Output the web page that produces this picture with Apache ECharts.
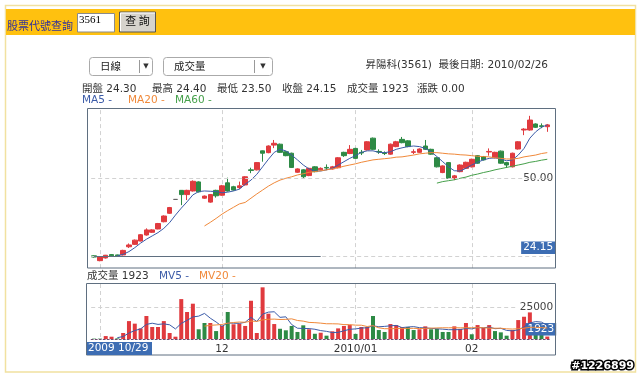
<!DOCTYPE html>
<html><head><meta charset="utf-8">
<script src="https://cdn.jsdelivr.net/npm/echarts@6/dist/echarts.min.js"></script>
<style>html,body{margin:0;padding:0;background:#fff;}#c{width:640px;height:376px;}</style>
</head><body><div id="c"></div>
<script>
const dates = ['2009/10/29','2009/10/30',
'2009/11/02','2009/11/03','2009/11/04','2009/11/05','2009/11/06','2009/11/09','2009/11/10','2009/11/11','2009/11/12','2009/11/13',
'2009/11/16','2009/11/17','2009/11/18','2009/11/19','2009/11/20','2009/11/23','2009/11/24','2009/11/25','2009/11/26','2009/11/27','2009/11/30',
'2009/12/01','2009/12/02','2009/12/03','2009/12/04','2009/12/07','2009/12/08','2009/12/09','2009/12/10','2009/12/11',
'2009/12/14','2009/12/15','2009/12/16','2009/12/17','2009/12/18','2009/12/21','2009/12/22','2009/12/23','2009/12/24','2009/12/25',
'2009/12/28','2009/12/29','2009/12/30','2009/12/31',
'2010/01/04','2010/01/05','2010/01/06','2010/01/07','2010/01/08','2010/01/11','2010/01/12','2010/01/13','2010/01/14','2010/01/15',
'2010/01/18','2010/01/19','2010/01/20','2010/01/21','2010/01/22','2010/01/25','2010/01/26','2010/01/27','2010/01/28','2010/01/29',
'2010/02/01','2010/02/02','2010/02/03','2010/02/04','2010/02/05','2010/02/08','2010/02/09','2010/02/10',
'2010/02/22','2010/02/23','2010/02/24','2010/02/25','2010/02/26'];

const open  = [24.2,22.6,23.5,24.6,24.5,24.5,27.2,28.0,29.1,31.1,32.0,33.1,35.5,38.3,42.9,45.9,44.5,45.7,48.7,43.3,42.0,45.9,44.3,48.4,47.1,46.8,47.7,52.7,52.7,59.0,58.4,60.9,61.2,58.7,58.2,51.9,52.7,50.8,53.7,52.7,53.5,53.0,53.4,58.5,58.1,59.8,58.5,59.3,63.2,58.8,58.3,57.9,60.4,62.8,62.3,58.5,58.5,60.6,59.5,56.7,51.8,55.1,50.0,52.1,53.2,53.7,57.4,57.1,58.6,56.7,58.9,55.1,53.7,59.6,65.9,65.9,67.9,67.3,67.0];
const close = [23.8,23.8,24.4,24.2,24.2,26.0,27.8,29.4,31.2,32.8,32.8,34.9,37.4,40.2,42.9,44.5,45.9,48.9,45.4,44.0,44.5,44.1,47.4,45.7,46.0,47.4,50.4,52.5,55.1,58.2,60.6,61.5,58.5,57.4,53.5,53.0,50.4,53.2,52.1,53.2,53.3,53.7,56.7,57.4,59.5,56.5,58.3,62.0,59.5,58.6,58.1,61.2,62.0,61.7,60.4,58.7,59.6,59.5,57.9,53.7,54.0,49.9,50.7,54.3,55.2,56.2,54.9,56.0,58.8,58.5,54.9,54.3,58.2,62.0,66.2,69.2,66.8,67.1,67.6];
const low   = [23.6,22.4,23.3,24.1,24.0,24.3,26.8,27.8,29.0,30.9,31.8,33.0,35.3,38.1,42.8,41.0,42.7,45.5,45.2,43.1,41.8,43.5,44.1,45.5,45.8,46.3,47.5,51.6,52.5,55.4,58.2,59.9,58.3,57.2,53.3,51.7,50.0,50.6,51.9,52.5,52.6,52.8,53.2,57.0,57.9,56.3,57.6,59.1,59.3,58.0,57.6,57.7,60.2,61.5,60.2,57.9,58.3,59.3,57.7,53.5,51.6,49.7,49.3,51.9,53.0,53.5,54.7,55.8,57.4,56.5,54.7,53.3,53.5,59.4,64.2,65.7,66.6,66.5,65.3];
const high  = [24.4,24.0,24.5,24.8,24.6,26.2,28.3,29.6,31.4,33.3,33.0,35.1,37.6,40.4,43.0,46.0,46.1,49.2,48.9,44.2,44.7,46.1,47.7,50.1,47.4,48.8,50.6,53.4,55.3,59.1,60.8,62.6,61.4,58.9,58.4,53.2,52.9,53.4,53.9,53.5,54.5,54.0,56.9,58.7,60.9,60.0,59.3,62.2,63.4,59.5,58.8,61.4,62.3,63.6,62.5,59.5,59.8,62.6,59.7,56.9,54.2,55.3,51.0,54.5,55.4,56.4,57.6,57.3,59.8,58.7,59.1,55.3,58.4,62.2,66.5,70.6,68.1,68.1,67.9];

const ma5  = ['-','-','-','-',24.2,24.7,25.6,26.9,28.4,29.7,30.8,31.9,33.3,35.2,37.7,40.0,42.1,44.4,45.5,45.7,45.6,45.5,45.1,45.3,45.7,46.3,47.9,49.3,51.2,53.7,56.2,58.5,59.5,59.0,57.6,56.0,54.3,53.0,52.3,52.3,52.7,53.2,54.3,55.4,56.5,57.4,58.5,59.0,59.0,58.5,58.4,58.7,59.5,60.0,60.4,60.6,60.4,59.8,58.7,57.1,55.4,53.7,52.4,52.3,53.2,54.3,55.2,56.0,56.5,56.7,56.3,55.7,56.0,57.6,59.8,63.2,65.3,66.8,67.6];
const ma20 = ['-','-','-','-','-','-','-','-','-','-','-','-','-','-','-','-','-','-','-',34.1,35.3,36.6,38.0,39.2,40.3,41.4,41.9,43.3,44.7,46.0,47.3,48.4,49.3,49.9,50.4,51.0,51.4,51.9,52.1,52.4,52.7,53.0,53.4,53.9,54.3,54.7,55.2,55.6,56.0,56.2,56.4,56.6,56.9,57.0,57.3,57.6,58.0,58.2,58.4,58.4,58.2,58.0,57.9,57.7,57.6,57.4,57.2,57.1,57.0,56.7,56.5,56.3,56.3,56.5,57.0,57.3,57.6,58.1,58.4];
const ma60 = ['-','-','-','-','-','-','-','-','-','-','-','-','-','-','-','-','-','-','-','-','-','-','-','-','-','-','-','-','-','-','-','-','-','-','-','-','-','-','-','-','-','-','-','-','-','-','-','-','-','-','-','-','-','-','-','-','-','-','-',48.3,48.8,49.1,49.4,49.9,50.3,50.9,51.3,51.8,52.2,52.7,53.1,53.5,53.9,54.3,54.7,55.2,55.5,55.9,56.2];

const volume = [300,300,2300,1800,500,4700,14000,12000,8300,18000,9400,9400,14000,4700,1800,31200,21100,27600,7600,12500,12500,6200,10400,21100,11500,12000,10200,29900,4700,40400,19800,11700,8000,6800,10200,5500,10700,7600,4100,4900,2600,6000,8300,10200,10900,4000,9400,9400,18000,7000,5500,11700,10900,9400,9400,7000,7600,9900,7600,7900,5500,5500,9900,7900,12500,3700,10900,8600,10900,6200,5200,2600,7000,14800,17400,20800,8000,5000,1923];
const volUp  = [0,0,1,1,0,1,1,1,1,1,1,1,1,1,1,1,1,1,0,0,1,0,1,0,1,1,1,1,1,1,1,1,0,0,0,0,0,1,0,1,0,1,1,1,1,0,1,1,0,0,0,1,1,1,0,0,1,1,0,0,0,0,1,1,1,0,1,1,1,0,0,0,1,1,1,1,0,0,1];
const mv5  = ['-','-','-','-',1040,1920,4660,6600,7900,11400,12340,11420,11820,11100,7860,12220,14560,17280,17860,20000,16260,13280,9840,12540,12340,12240,13040,16940,13660,19440,21000,21300,16920,17340,11300,8440,8240,8160,7620,6560,5980,5040,5180,6400,7600,7880,8560,8780,10340,9560,9860,10320,10620,8900,9380,9680,8860,8660,8300,8000,7700,7280,7280,7340,8260,7900,8980,8720,9320,8060,8360,6700,6380,7160,9400,12520,13600,13200,10625];
const mv20 = ['-','-','-','-','-','-','-','-','-','-','-','-','-','-','-','-','-','-','-',10075,10685,10980,11385,12350,12900,13265,13075,13970,13790,14910,15430,15545,15245,15350,15770,14485,13965,12965,12790,12410,11915,11905,11800,11255,11225,10825,10785,9760,10425,8755,8040,8040,8185,8315,8275,8350,8195,8310,8485,8635,8780,8755,8835,8720,8800,8785,8860,8820,8465,8425,8410,7955,7760,8030,8430,9120,9140,8895,8611];

const infoNames  = ['開盤','最高','最低','收盤','成交量','漲跌'];
const infoValues = ['24.30','24.40','23.50','24.15','1923','0.00'];
const lastClose = 24.15, lastVolume = 1923;
const priceTickLabel = '50.00', volTickLabel = '25000';
const stockTitle = '昇陽科(3561)  最後日期: 2010/02/26';

const FONT = '"DejaVu Sans", "Noto Sans CJK TC", sans-serif';
const CJK = '"Noto Sans CJK TC", "DejaVu Sans", sans-serif';
const RED = '#e03a3e', GREEN = '#2d8a45', BLUE = '#3b5ba8', ORANGE = '#f0893a', MAG = '#45a04a', LBL = '#3d6db3';
const GRIDC = '#d2d2d2';

function monthEnd(i) { return i < dates.length - 1 && dates[i].slice(5, 7) !== dates[i + 1].slice(5, 7); }
function monthLabel(v, i) {
  const n = dates[i + 1]; if (!n) return '';
  return n.slice(0, 4) !== dates[i].slice(0, 4) ? n.slice(0, 7) : n.slice(5, 7);
}

const candleData = open.map((o, i) => [o, close[i], low[i], high[i]]);
const volData = volume.map((v, i) => ({ value: v, itemStyle: { color: volUp[i] ? RED : GREEN } }));

const chart = echarts.init(document.getElementById('c'));
const info = [];
const infoX = [82, 152, 217, 282, 347, 417];
infoNames.forEach((n, k) => info.push({ type: 'text', x: infoX[k], y: 89, z: 100,
  style: { text: n + ' ' + infoValues[k], font: '10.5px ' + FONT, fill: '#333', verticalAlign: 'middle' } }));

const graphic = [
  { type: 'rect', z: 0, shape: { x: 5.5, y: 5.5, width: 630, height: 366.5 }, style: { fill: 'none', stroke: '#f1e1a0', lineWidth: 1.5 } },
  { type: 'rect', z: 1, shape: { x: 6, y: 9, width: 629, height: 26 }, style: { fill: '#ffc10f' } },
  { type: 'text', z: 2, x: 7, y: 25.5, style: { text: '股票代號查詢', font: '11px ' + CJK, fill: '#33339a', verticalAlign: 'middle' } },
  { type: 'rect', z: 2, shape: { x: 77.5, y: 13.5, width: 37, height: 18.5 }, style: { fill: '#fff', stroke: '#8a8a8a', lineWidth: 1 } },
  { type: 'text', z: 3, x: 79, y: 20.5, style: { text: '3561', font: '11px "Liberation Serif", serif', fill: '#000', verticalAlign: 'middle' } },
  { type: 'rect', z: 2, shape: { x: 119.5, y: 12, width: 36, height: 20 }, style: { fill: '#d6d3cc', stroke: '#555', lineWidth: 1 } },
  { type: 'polyline', z: 3, shape: { points: [[120.5, 31], [120.5, 13], [155, 13]] }, style: { stroke: '#fff', lineWidth: 1, fill: null } },
  { type: 'text', z: 3, x: 137.5, y: 20.5, style: { text: '查 詢', font: '11px ' + CJK, fill: '#111', align: 'center', verticalAlign: 'middle' } },

  { type: 'rect', z: 2, shape: { x: 89.5, y: 57.5, width: 63, height: 18, r: 3 }, style: { fill: '#fff', stroke: '#aaa' } },
  { type: 'line', z: 3, shape: { x1: 139.5, y1: 60, x2: 139.5, y2: 73 }, style: { stroke: '#999' } },
  { type: 'text', z: 3, x: 100, y: 66.5, style: { text: '日線', font: '10.5px ' + CJK, fill: '#222', verticalAlign: 'middle' } },
  { type: 'text', z: 3, x: 146, y: 66.5, style: { text: '▼', font: '7px ' + FONT, fill: '#333', align: 'center', verticalAlign: 'middle' } },
  { type: 'rect', z: 2, shape: { x: 163.5, y: 57.5, width: 109, height: 18, r: 3 }, style: { fill: '#fff', stroke: '#aaa' } },
  { type: 'line', z: 3, shape: { x1: 254.5, y1: 60, x2: 254.5, y2: 73 }, style: { stroke: '#999' } },
  { type: 'text', z: 3, x: 174, y: 66.5, style: { text: '成交量', font: '10.5px ' + CJK, fill: '#222', verticalAlign: 'middle' } },
  { type: 'text', z: 3, x: 263, y: 66.5, style: { text: '▼', font: '7px ' + FONT, fill: '#333', align: 'center', verticalAlign: 'middle' } },
  { type: 'text', z: 3, x: 548, y: 65.5, style: { text: stockTitle, font: '10.5px ' + FONT, fill: '#333', align: 'right', verticalAlign: 'middle' } },

  ...info,
  { type: 'text', z: 100, x: 82, y: 100.5, style: { text: 'MA5 -', font: '10.5px ' + FONT, fill: BLUE, verticalAlign: 'middle' } },
  { type: 'text', z: 100, x: 128, y: 100.5, style: { text: 'MA20 -', font: '10.5px ' + FONT, fill: ORANGE, verticalAlign: 'middle' } },
  { type: 'text', z: 100, x: 175, y: 100.5, style: { text: 'MA60 -', font: '10.5px ' + FONT, fill: MAG, verticalAlign: 'middle' } },

  { type: 'rect', z: 100, shape: { x: 87.5, y: 108.5, width: 468, height: 159.5 }, style: { fill: 'none', stroke: '#5f6f80', lineWidth: 1 } },

  { type: 'text', z: 100, x: 87, y: 276.5, style: { text: infoNames[4] + ' ' + infoValues[4], font: '10.5px ' + FONT, fill: '#333', verticalAlign: 'middle' } },
  { type: 'text', z: 100, x: 159, y: 276.5, style: { text: 'MV5 -', font: '10.5px ' + FONT, fill: BLUE, verticalAlign: 'middle' } },
  { type: 'text', z: 100, x: 199, y: 276.5, style: { text: 'MV20 -', font: '10.5px ' + FONT, fill: ORANGE, verticalAlign: 'middle' } },
  { type: 'rect', z: 100, shape: { x: 86.5, y: 283.5, width: 469, height: 71.5 }, style: { fill: 'none', stroke: '#5f6f80', lineWidth: 1 } },
  { type: 'rect', z: 100, shape: { x: 87, y: 342, width: 65, height: 13 }, style: { fill: LBL } },
  { type: 'text', z: 101, x: 88, y: 348.5, style: { text: dates[0].slice(0, 4) + ' ' + dates[0].slice(5), font: '10.5px ' + FONT, fill: '#fff', verticalAlign: 'middle' } },

  { type: 'text', z: 100, x: 634, y: 366, style: { text: '#1226899', font: 'bold 11px ' + FONT, fill: '#fff', stroke: '#000', lineWidth: 3, align: 'right', verticalAlign: 'middle' } }
];

const dashed = { color: GRIDC, type: [4, 3], width: 1 };
const option = {
  animation: false,
  backgroundColor: '#fff',
  graphic: graphic,
  grid: [
    { left: 91.2, width: 459, top: 110.1, height: 158.4 },
    { left: 91.2, width: 459, top: 284, height: 55 }
  ],
  xAxis: [
    { type: 'category', gridIndex: 0, data: dates, boundaryGap: true,
      axisLine: { show: false }, axisTick: { show: false }, axisLabel: { show: false },
      splitLine: { show: true, interval: monthEnd, alignWithLabel: true, lineStyle: dashed } },
    { type: 'category', gridIndex: 1, data: dates, boundaryGap: true,
      axisLine: { show: true, lineStyle: { color: '#6d4c6d', type: [2, 2], width: 1 } },
      axisTick: { show: false },
      axisLabel: { interval: monthEnd, formatter: monthLabel, color: '#333', fontSize: 10.5, fontFamily: FONT, margin: 5 },
      splitLine: { show: true, interval: monthEnd, alignWithLabel: true, lineStyle: dashed } }
  ],
  yAxis: [
    { type: 'value', gridIndex: 0, position: 'right', min: 20, max: 72.5, scale: true,
      axisLine: { show: false }, axisTick: { show: false }, splitLine: { show: false },
      axisLabel: { inside: true, margin: -3, color: '#444', fontSize: 10.5, fontFamily: FONT,
        formatter: v => (v === 50 ? priceTickLabel : ''), backgroundColor: '#fff', padding: [0, 0, 0, 3] } },
    { type: 'value', gridIndex: 1, position: 'right', min: 0, max: 43000, interval: 25000,
      axisLine: { show: false }, axisTick: { show: false },
      splitLine: { show: true, showMinLine: false, showMaxLine: false, lineStyle: dashed },
      axisLabel: { inside: true, margin: -3, color: '#444', fontSize: 10.5, fontFamily: FONT,
        formatter: v => (v === 25000 ? volTickLabel : ''), backgroundColor: '#fff', padding: [0, 0, 0, 3] } }
  ],
  series: [
    { type: 'candlestick', xAxisIndex: 0, yAxisIndex: 0, data: candleData, barWidth: 5,
      itemStyle: { color: RED, color0: GREEN, borderColor: RED, borderColor0: GREEN, borderColorDoji: '#666', borderWidth: 1 },
      markLine: { symbol: 'none', silent: true, animation: false,
        data: [
          { yAxis: 50, lineStyle: dashed, label: { show: false } },
          { yAxis: lastClose, lineStyle: dashed,
            label: { show: true, position: 'insideEndTop', formatter: lastClose.toFixed(2), backgroundColor: LBL,
              color: '#fff', fontSize: 10.5, fontFamily: FONT, padding: [1, 2], distance: [-5, 2] } },
          [ { xAxis: 0, yAxis: lastClose, lineStyle: { color: '#5f6f80', type: 'solid', width: 1 }, label: { show: false } },
            { xAxis: 39, yAxis: lastClose } ]
        ] } },
    { type: 'line', xAxisIndex: 0, yAxisIndex: 0, data: ma5, showSymbol: false, lineStyle: { color: BLUE, width: 1 } },
    { type: 'line', xAxisIndex: 0, yAxisIndex: 0, data: ma20, showSymbol: false, lineStyle: { color: ORANGE, width: 1 } },
    { type: 'line', xAxisIndex: 0, yAxisIndex: 0, data: ma60, showSymbol: false, lineStyle: { color: MAG, width: 1 } },
    { type: 'bar', xAxisIndex: 1, yAxisIndex: 1, data: volData, barWidth: 4,
      markLine: { symbol: 'none', silent: true, animation: false,
        data: [{ yAxis: lastVolume, lineStyle: { color: 'transparent' },
          label: { show: true, position: 'insideEndTop', formatter: String(lastVolume), backgroundColor: LBL,
            color: '#fff', fontSize: 10.5, fontFamily: FONT, padding: [1, 2], distance: [-6, 1] } }] } },
    { type: 'line', xAxisIndex: 1, yAxisIndex: 1, data: mv5, showSymbol: false, lineStyle: { color: BLUE, width: 1 }, z: 5 },
    { type: 'line', xAxisIndex: 1, yAxisIndex: 1, data: mv20, showSymbol: false, lineStyle: { color: ORANGE, width: 1 }, z: 5 }
  ]
};
chart.setOption(option);
</script></body></html>
